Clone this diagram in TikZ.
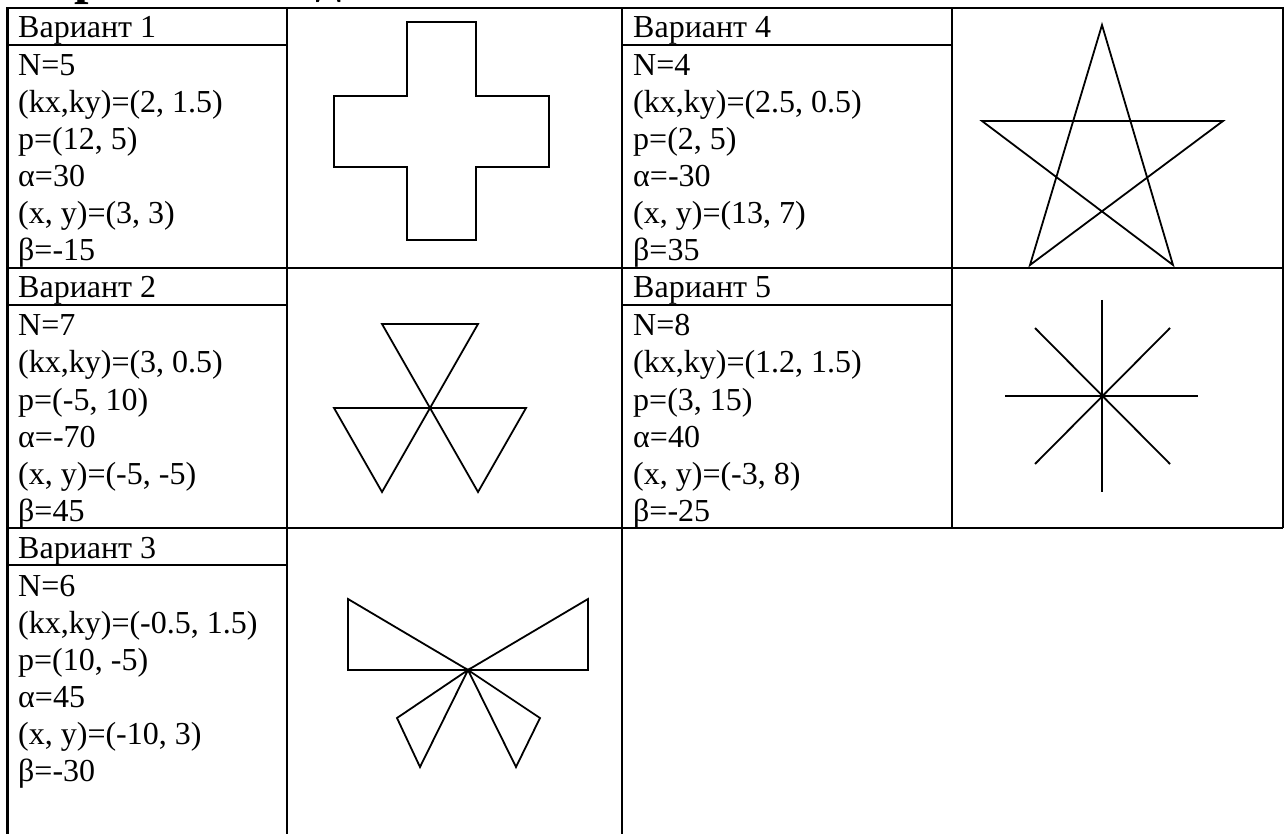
\documentclass[tikz,border=0pt]{standalone}
\usepackage{fontspec}
\setmainfont{Liberation Serif}
\begin{document}
\begin{tikzpicture}[x=1pt,y=-1pt,
  tbl/.style={line width=2.4pt},
  fig/.style={line width=1.8pt, line join=miter},
  txt/.style={anchor=base west, inner sep=0pt, font=\fontsize{32}{37}\selectfont},
  ttl/.style={anchor=base west, inner sep=0pt, font=\fontsize{52}{60}\selectfont\bfseries}]
\useasboundingbox (0,0) rectangle (1286,834);
\begin{scope}
\clip (0,0) rectangle (1286,834);
\node[ttl] (title) at (14,-6) {Варианты заданий};
% table
\draw[tbl] (7.5,834) -- (7.5,8) -- (1283,8) -- (1283,528);
\draw[tbl] (287,8) -- (287,834);
\draw[tbl] (622,8) -- (622,834);
\draw[tbl] (952,8) -- (952,528);
\draw[tbl] (7.5,268) -- (1283,268);
\draw[tbl] (7.5,528) -- (1283,528);
\draw[tbl] (7.5,45) -- (287,45);
\draw[tbl] (622,45) -- (952,45);
\draw[tbl] (7.5,305) -- (287,305);
\draw[tbl] (622,305) -- (952,305);
\draw[tbl] (7.5,565) -- (287,565);
\end{scope}
% headers
\node[txt] (h1) at (18,38) {Вариант 1};
\node[txt] (h2) at (18,298) {Вариант 2};
\node[txt] (h3) at (18,558) {Вариант 3};
\node[txt] (h4) at (633,38) {Вариант 4};
\node[txt] (h5) at (633,298) {Вариант 5};
% bodies
\foreach \t [count=\i] in {N=5,{(kx,ky)=(2, 1.5)},{p=(12, 5)},α=30,{(x, y)=(3, 3)},β=-15}
  \node[txt] (a\i) at (18,{45+31+37*(\i-1)}) {\t};
\foreach \t [count=\i] in {N=7,{(kx,ky)=(3, 0.5)},{p=(-5, 10)},α=-70,{(x, y)=(-5, -5)},β=45}
  \node[txt] (b\i) at (18,{305+31+37*(\i-1)}) {\t};
\foreach \t [count=\i] in {N=6,{(kx,ky)=(-0.5, 1.5)},{p=(10, -5)},α=45,{(x, y)=(-10, 3)},β=-30}
  \node[txt] (c\i) at (18,{565+31+37*(\i-1)}) {\t};
\foreach \t [count=\i] in {N=4,{(kx,ky)=(2.5, 0.5)},{p=(2, 5)},α=-30,{(x, y)=(13, 7)},β=35}
  \node[txt] (d\i) at (633,{45+31+37*(\i-1)}) {\t};
\foreach \t [count=\i] in {N=8,{(kx,ky)=(1.2, 1.5)},{p=(3, 15)},α=40,{(x, y)=(-3, 8)},β=-25}
  \node[txt] (e\i) at (633,{305+31+37*(\i-1)}) {\t};
% variant 1: cross
\draw[fig] (407,22) -- (476,22) -- (476,96) -- (549,96) -- (549,167) -- (476,167)
  -- (476,240) -- (407,240) -- (407,167) -- (334,167) -- (334,96) -- (407,96) -- cycle;
% variant 4: star
\coordinate (s1) at (1102,25);
\coordinate (s2) at (1223,121);
\coordinate (s3) at (1030,265);
\coordinate (s4) at (982,121);
\coordinate (s5) at (1173,265);
\draw[fig] (s1) -- (s3) -- (s2) -- (s4) -- (s5) -- cycle;
% variant 2: three triangles
\coordinate (c2) at (430,408);
\draw[fig] (382,324) -- (478,324) -- (c2) -- cycle;
\draw[fig] (334,408) -- (c2) -- (382,492) -- cycle;
\draw[fig] (c2) -- (526,408) -- (478,492) -- cycle;
% variant 5: eight rays
\coordinate (c5) at (1102,396);
\draw[fig] (1102,300) -- (1102,492);
\draw[fig] (1005,396) -- (1198,396);
\draw[fig] (1035,328) -- (1170,464);
\draw[fig] (1170,328) -- (1035,464);
% variant 3: butterfly
\coordinate (c3) at (468,670);
\draw[fig] (348,599) -- (348,670) -- (c3) -- cycle;
\draw[fig] (588,599) -- (588,670) -- (c3) -- cycle;
\draw[fig] (c3) -- (397,718) -- (420,767) -- cycle;
\draw[fig] (c3) -- (540,718) -- (516,767) -- cycle;
\end{tikzpicture}
\end{document}
